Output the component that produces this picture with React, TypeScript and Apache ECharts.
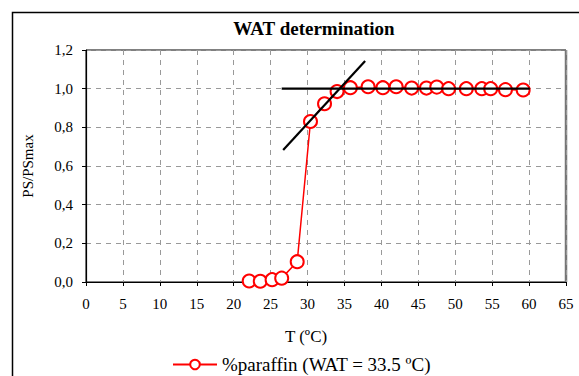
import React, { useEffect, useRef } from "react";
import * as echarts from "echarts";

const temperature = [22.1, 23.6, 25.2, 26.5, 28.6, 30.4, 32.3, 34.0, 35.8, 38.2, 40.2, 42.0, 44.1, 46.1, 47.5, 49.1, 51.5, 53.6, 54.8, 56.8, 59.2];
const ratio = [0.005, 0.004, 0.012, 0.02, 0.105, 0.83, 0.922, 0.985, 1.005, 1.01, 1.005, 1.01, 1.003, 1.003, 1.008, 1.0, 1.0, 1.0, 1.0, 0.995, 0.993];
const plateauLine = [[26.5, 1.0], [60.1, 1.0]];
const slopeLine = [[26.7, 0.683], [37.8, 1.143]];
const seriesName = "%paraffin (WAT = 33.5 ºC)";
const titleText = "WAT determination";
const xName = "T (ºC)";
const yName = "PS/PSmax";

const FONT = "Liberation Serif";

export default function App() {
  const ref = useRef<HTMLDivElement>(null);
  useEffect(() => {
    if (!ref.current) return;
    const chart = echarts.init(ref.current, null, { renderer: "svg" });
    const points = temperature.map((t, i) => [t, ratio[i]]);
    chart.setOption({
      animation: false,
      backgroundColor: "#fff",
      textStyle: { fontFamily: FONT },
      grid: {
        left: 86,
        top: 50,
        right: 13,
        bottom: 94,
        show: true,
        borderColor: "#000",
        borderWidth: 1,
        backgroundColor: "transparent",
      },
      legend: {
        data: [seriesName],
        left: 167,
        top: 350,
        itemWidth: 44,
        itemHeight: 12,
        itemGap: 6,
        textStyle: { fontFamily: FONT, fontSize: 19, color: "#000" },
      },
      xAxis: {
        type: "value",
        min: 0,
        max: 65,
        interval: 5,
        name: xName,
        nameLocation: "middle",
        nameGap: 46,
        nameTextStyle: { fontFamily: FONT, fontSize: 17, color: "#000", padding: [0, 40, 0, 0] },
        axisLine: { lineStyle: { color: "#000", width: 1.2 } },
        axisTick: { show: true, length: 4, lineStyle: { color: "#000" } },
        axisLabel: { fontFamily: FONT, fontSize: 15, color: "#000", margin: 14 },
        splitLine: { show: true, lineStyle: { color: "#999", type: [5, 5], width: 1 } },
      },
      yAxis: {
        type: "value",
        min: 0,
        max: 1.2,
        interval: 0.2,
        name: yName,
        nameLocation: "middle",
        nameGap: 51,
        nameRotate: 90,
        nameTextStyle: { fontFamily: FONT, fontSize: 15, color: "#000" },
        axisLine: { show: true, lineStyle: { color: "#000", width: 1.2 } },
        axisTick: { show: true, length: 4, lineStyle: { color: "#000" } },
        axisLabel: {
          fontFamily: FONT,
          fontSize: 15,
          color: "#000",
          margin: 13,
          formatter: (v: number) => v.toFixed(1).replace(".", ","),
        },
        splitLine: { show: true, lineStyle: { color: "#999", type: [5, 5], width: 1 } },
      },
      series: [
        {
          name: seriesName,
          type: "line",
          data: points,
          symbol: "emptyCircle",
          symbolSize: 13,
          lineStyle: { color: "#ff0000", width: 1.5 },
          itemStyle: { color: "#ff0000", borderColor: "#ff0000", borderWidth: 1.3 },
          z: 2,
        },
        {
          name: "plateau",
          type: "line",
          data: plateauLine,
          symbol: "none",
          lineStyle: { color: "#000", width: 2.2 },
          z: 3,
        },
        {
          name: "slope",
          type: "line",
          data: slopeLine,
          symbol: "none",
          lineStyle: { color: "#000", width: 2.2 },
          z: 3,
        },
      ],
      graphic: [
        {
          type: "rect",
          shape: { x: 12.5, y: 12.5, width: 700, height: 500 },
          style: { fill: "none", stroke: "#000", lineWidth: 1.5 },
          silent: true,
        },
        {
          type: "line",
          shape: { x1: 566, y1: 50, x2: 566, y2: 282 },
          style: { stroke: "#777", lineWidth: 2.5 },
          silent: true,
        },
        {
          type: "text",
          x: 314,
          y: 28,
          style: {
            text: titleText,
            fontFamily: FONT,
            fontSize: 19,
            fontWeight: "bold",
            fill: "#000",
            align: "center",
            verticalAlign: "middle",
          },
          silent: true,
        },
      ],
    });
    return () => chart.dispose();
  }, []);
  return (
    <div
      ref={ref}
      style={{ width: 579, height: 376, position: "fixed", left: 0, top: 0, background: "#fff" }}
    />
  );
}
